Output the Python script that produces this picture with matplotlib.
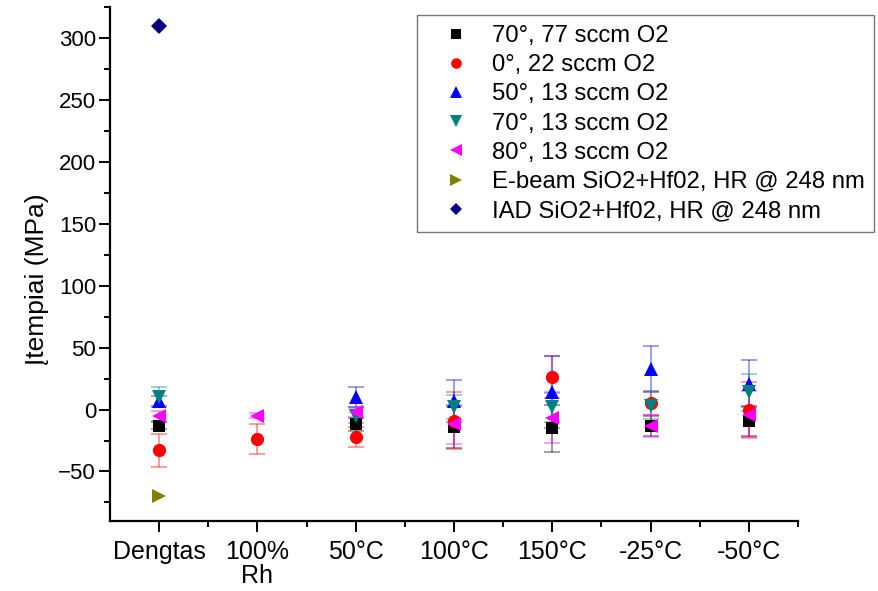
import numpy as np
import matplotlib
matplotlib.use("Agg")
import matplotlib.pyplot as plt

plt.rcParams['font.family'] = ['Liberation Sans', 'DejaVu Sans']

categories = ["Dengtas", "100%\nRh", "50°C", "100°C", "150°C", "-25°C", "-50°C"]

# x index (1-based category), stress (MPa), error (MPa)
s70_77_x = [1, 3, 4, 5, 6, 7]
s70_77_y = [-13, -12, -14, -15, -13, -9]
s70_77_e = [3, 5, 17, 19, 8, 12]

s0_22_x = [1, 2, 3, 4, 5, 6, 7]
s0_22_y = [-33, -24, -22, -9, 26, 5, 0]
s0_22_e = [13, 12, 8, 23, 17, 9, 22]

s50_13_x = [1, 3, 4, 5, 6, 7]
s50_13_y = [7, 10, 7, 14, 33, 21]
s50_13_e = [4, 8, 17, 29, 18, 19]

s70_13_x = [1, 3, 4, 5, 6, 7]
s70_13_y = [10, -5, 2, 2, 3, 14]
s70_13_e = [8, 6, 10, 12, 11, 15]

s80_13_x = [1, 2, 3, 4, 5, 6, 7]
s80_13_y = [-5, -5, -2, -12, -7, -13, -4]
s80_13_e = [4, 2, 4, 16, 20, 9, 19]

ebeam_x = [1]
ebeam_y = [-70]

iad_x = [1]
iad_y = [310]

series = [
    ("70°, 77 sccm O2", s70_77_x, s70_77_y, s70_77_e, "s", "black", 8.5),
    ("0°, 22 sccm O2", s0_22_x, s0_22_y, s0_22_e, "o", "red", 9.5),
    ("50°, 13 sccm O2", s50_13_x, s50_13_y, s50_13_e, "^", "blue", 10),
    ("70°, 13 sccm O2", s70_13_x, s70_13_y, s70_13_e, "v", "#008080", 10),
    ("80°, 13 sccm O2", s80_13_x, s80_13_y, s80_13_e, "<", "magenta", 10),
    ("E-beam SiO2+Hf02, HR @ 248 nm", ebeam_x, ebeam_y, None, ">", "#808000", 10),
    ("IAD SiO2+Hf02, HR @ 248 nm", iad_x, iad_y, None, "D", "#000080", 8),
]

fig = plt.figure(figsize=(8.79, 5.91), dpi=100)
ax = fig.add_axes([0.1251, 0.1184, 0.7827, 0.8696])

handles = []
for label, xs, ys, es, mk, col, ms in series:
    if es is not None:
        ax.errorbar(xs, ys, yerr=es, fmt="none", ecolor=col, alpha=0.45,
                    elinewidth=1.2, capsize=6, capthick=1.2, zorder=2)
    h, = ax.plot(xs, ys, linestyle="none", marker=mk, color=col,
                 markersize=ms, markeredgewidth=0, zorder=3, label=label)
    handles.append(h)

ax.set_xlim(0.5, 7.5)
ax.set_ylim(-90, 325)
ax.set_xticks(range(1, 8))
ax.set_xticklabels(categories, fontsize=18, linespacing=0.95)
ax.set_xticks(np.arange(1.5, 7.6, 1.0), minor=True)
ax.set_yticks(np.arange(-50, 301, 50))
ax.set_yticks(np.arange(-75, 326, 25), minor=True)

for side in ("top", "right"):
    ax.spines[side].set_visible(False)
for side in ("left", "bottom"):
    ax.spines[side].set_linewidth(1.6)

ax.tick_params(axis="both", which="major", direction="out", length=8,
               width=1.4, pad=4)
ax.tick_params(axis="both", which="minor", direction="out", length=4, width=1.4)
ax.tick_params(axis="y", which="major", labelsize=16, pad=2)
ax.tick_params(axis="x", which="major", pad=6)

ax.set_ylabel("Įtempiai (MPa)", fontsize=19)
ax.yaxis.set_label_coords(-0.089, 0.47)

fig.legend(handles=handles, loc="upper left",
           bbox_to_anchor=(417 / 879, 1 - 15 / 591),
           fontsize=17.2, frameon=True, fancybox=False, edgecolor="#555555",
           handletextpad=0.3, borderpad=0.42, labelspacing=0.3,
           handlelength=2.4, borderaxespad=0, markerscale=0.8)

fig.savefig("out.png", dpi=100)
